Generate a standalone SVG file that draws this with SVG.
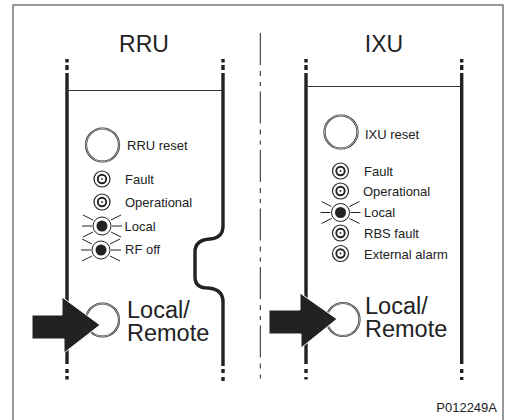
<svg xmlns="http://www.w3.org/2000/svg" width="510" height="420" viewBox="0 0 510 420">
<style>
text{font-family:"Liberation Sans",Arial,sans-serif;fill:#222}
.t{font-size:23px}.s{font-size:13px}.b{font-size:23.500px}
.bar{fill:none;stroke:#222;stroke-width:3.4}
.thin{fill:none;stroke:#333;stroke-width:1.1}
.ring{fill:none;stroke:#333;stroke-width:2.2}
.ringw{fill:none;stroke:#fff;stroke-width:.6}
.ray{stroke:#222;stroke-width:1;fill:none}
.arrow{fill:#222}
</style>
<defs>
<g id="led"><circle r="8" fill="#fff" stroke="#222" stroke-width="1.2"/><circle r="4.200" fill="none" stroke="#222" stroke-width="1.900"/><circle r=".9" fill="#222"/></g>
<g id="lit"><path class="ray" d="M-20 0H-10M10 0H20M-19-11L-9-6M19-11L9-6M-19 11L-9 6M19 11L9 6"/><circle r="9" fill="#fff" stroke="#222" stroke-width="1"/><circle r="5.500" fill="#222"/></g>
<g id="big"><circle r="16.500" class="ring"/><circle r="16.500" class="ringw"/></g>
</defs>
<rect x="13" y="5" width="490" height="420" fill="#fff" stroke="#555" stroke-width="1.2"/>
<g id="divider"><path d="M260.300 33V380" fill="none" stroke="#222" stroke-width="1" stroke-dasharray="32 6 5 6 4 5.500"/></g>
<g id="connectors">
<path class="bar" d="M67 73V364M67 59V62.500M67 65V70M67 369V373M67 376V379.500"/>
<path class="bar" d="M223 73V226Q223 238 210 239Q195 240 195 252V277Q195 288 208 288Q223 289 223 302V366M223 59V62.500M223 65V70M223 369V373M223 377V381"/>
<path class="thin" d="M67 90.500H223"/>
<path class="bar" d="M306 73V364M306 59V62.500M306 65V70M306 369V373M306 377V379.500"/>
<path class="bar" d="M461.700 73V364M461.700 59V62.500M461.700 65V70M461.700 369V373M461.700 377V380"/>
<path class="thin" d="M306 86.500H461.700"/>
</g>
<g id="rru-title"><text class="t" x="144" y="52" text-anchor="middle">RRU</text></g>
<g id="ixu-title"><text class="t" x="384" y="52" text-anchor="middle">IXU</text></g>
<g id="rru-reset"><use href="#big" x="102.500" y="145"/><text class="s" x="127" y="150">RRU reset</text></g>
<g id="rru-fault"><use href="#led" x="102" y="179"/><text class="s" x="125" y="184">Fault</text></g>
<g id="rru-operational"><use href="#led" x="102" y="202"/><text class="s" x="125" y="207">Operational</text></g>
<g id="rru-local"><use href="#lit" x="102" y="226"/><text class="s" x="124.500" y="231">Local</text></g>
<g id="rru-rfoff"><use href="#lit" x="101" y="250"/><text class="s" x="125" y="254">RF off</text></g>
<g id="rru-button"><use href="#big" x="102.500" y="320"/><text class="b" x="127" y="317.500">Local/</text><text class="b" x="127" y="341">Remote</text></g>
<g id="rru-arrow"><path class="arrow" stroke="#fff" stroke-width="1" d="M32 315H62V297L100 325L64 353V339H32Z"/></g>
<g id="ixu-reset"><use href="#big" x="341" y="132"/><text class="s" x="365" y="139">IXU reset</text></g>
<g id="ixu-fault"><use href="#led" x="340.500" y="171"/><text class="s" x="364" y="176">Fault</text></g>
<g id="ixu-operational"><use href="#led" x="340.500" y="191"/><text class="s" x="363" y="196">Operational</text></g>
<g id="ixu-local"><use href="#lit" x="340.500" y="212.500"/><text class="s" x="364" y="217">Local</text></g>
<g id="ixu-rbsfault"><use href="#led" x="340.500" y="233"/><text class="s" x="364" y="238">RBS fault</text></g>
<g id="ixu-external"><use href="#led" x="340.500" y="253.500"/><text class="s" x="364" y="259">External alarm</text></g>
<g id="ixu-button"><use href="#big" x="343" y="319.500"/><text class="b" x="365" y="313.500">Local/</text><text class="b" x="365" y="337">Remote</text></g>
<g id="ixu-arrow"><path class="arrow" stroke="#fff" stroke-width="1" d="M269 310H300V293L337 319L301 348V334H269Z"/></g>
<g id="ref"><text class="s" x="497" y="412" text-anchor="end">P012249A</text></g>
</svg>
